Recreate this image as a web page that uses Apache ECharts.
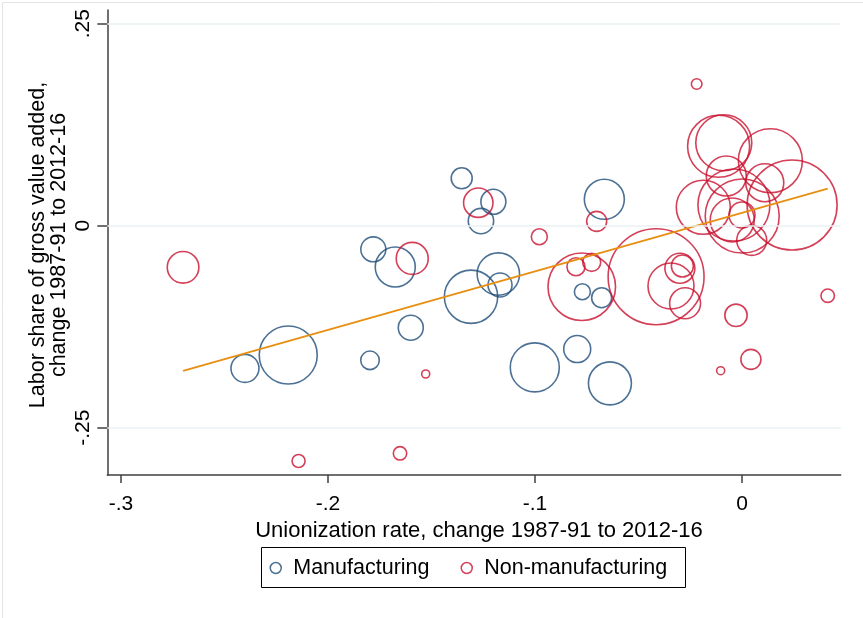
<!DOCTYPE html>
<html>
<head>
<meta charset="utf-8">
<script src="https://cdn.jsdelivr.net/npm/echarts@6/dist/echarts.min.js"></script>
<style>
html,body{margin:0;padding:0;background:#fff;}
#chart{width:863px;height:618px;}
</style>
</head>
<body>
<div id="chart"></div>
<script>
// Manufacturing industries: x = unionization change, y = labor share change, w = weight
const manufX = [-0.1354, -0.1201, -0.1261, -0.0665, -0.1781, -0.1675, -0.1309, -0.1177, -0.1169, -0.1600, -0.2192, -0.2401, -0.1797, -0.0771, -0.0678, -0.1001, -0.0796, -0.0638];
const manufY = [0.0587, 0.0297, 0.0058, 0.0327, -0.0292, -0.0511, -0.0879, -0.0598, -0.0734, -0.1262, -0.1600, -0.1765, -0.1666, -0.0817, -0.0891, -0.1753, -0.1526, -0.1951];
const manufW = [1.10, 1.56, 1.61, 4.0, 1.56, 4.0, 7.1, 4.5, 1.44, 1.56, 8.41, 1.96, 0.86, 0.64, 1.0, 6.0, 1.82, 4.62];

// Non-manufacturing industries
const nonX = [-0.1274, -0.0702, -0.0979, -0.0219, -0.2700, -0.1593, -0.1528, -0.2142, -0.1652, -0.0774, -0.0802, -0.0726, -0.0415, -0.0343, -0.0300, -0.0288, -0.0275, 0.0414, -0.0029, 0.0043, -0.0103,
  -0.0113, -0.0088, 0.0137, -0.0076, 0.0242, 0.0110, -0.0187, -0.0039, 0.0001, -0.0047, 0.0000, 0.0047];
const nonY = [0.0285, 0.0054, -0.0136, 0.1754, -0.0515, -0.0404, -0.1835, -0.2912, -0.2817, -0.0755, -0.0507, -0.0453, -0.0631, -0.0746, -0.0527, -0.0499, -0.0960, -0.0866, -0.1109, -0.1654, -0.1794,
  0.0983, 0.1027, 0.0804, 0.0615, 0.0256, 0.0532, 0.0228, 0.0256, 0.0120, 0.0071, 0.0132, -0.0181];
const nonW = [2.16, 1.0, 0.64, 0.28, 2.5, 2.56, 0.16, 0.42, 0.45, 11.4, 0.81, 0.81, 23.0, 5.29, 2.25, 1.21, 2.4, 0.45, 1.25, 1.0, 0.16,
  9.61, 7.84, 10.24, 4.0, 20.25, 3.61, 7.29, 12.96, 13.69, 4.84, 1.69, 2.25];

// Fitted line endpoints
const fitX = [-0.2700, 0.0414];
const fitY = [-0.1795, 0.0458];

// Ticks
const xTicks = [-0.3, -0.2, -0.1, 0];
const yTicks = [-0.25, 0, 0.25];

const BLUE = '#1f4e79';
const RED = '#c8102e';
const ORANGE = '#e88e10';
const FONT = 'Liberation Sans, Arial, sans-serif';

function fmt(v) {
  if (Math.abs(v) < 1e-9) return '0';
  return String(+v.toFixed(4)).replace('0.', '.');
}
function sizeFn(d) { return 20 * Math.sqrt(d[2]); }

const manufData = manufX.map((x, i) => [x, manufY[i], manufW[i]]);
const nonData = nonX.map((x, i) => [x, nonY[i], nonW[i]]);
const fitData = fitX.map((x, i) => [x, fitY[i]]);

const chart = echarts.init(document.getElementById('chart'), null, {renderer: 'canvas'});
chart.setOption({
  animation: false,
  backgroundColor: '#fff',
  textStyle: {fontFamily: FONT},
  grid: {left: 107.3, right: 22.3, top: 10, bottom: 143, containLabel: false},
  xAxis: {
    type: 'value', min: -0.3066, max: 0.04768,
    axisLine: {show: true, onZero: false, lineStyle: {color: '#404040', width: 1.5}},
    axisTick: {show: true, length: 8, customValues: xTicks, lineStyle: {color: '#404040', width: 1.5}},
    axisLabel: {customValues: xTicks, formatter: fmt, fontSize: 21, color: '#000', margin: 19, fontFamily: FONT},
    splitLine: {show: false},
    name: 'Unionization rate, change 1987-91 to 2012-16',
    nameLocation: 'middle', nameGap: 37,
    nameTextStyle: {fontSize: 22, color: '#000', fontFamily: FONT, padding: [0, 0, 0, 10]}
  },
  yAxis: {
    type: 'value', min: -0.3085, max: 0.267,
    axisLine: {show: true, onZero: false, lineStyle: {color: '#404040', width: 1.5}},
    axisTick: {show: true, length: 10, customValues: yTicks, lineStyle: {color: '#404040', width: 1.5}},
    axisLabel: {customValues: yTicks, formatter: fmt, fontSize: 21, color: '#000', rotate: 90, margin: 14, fontFamily: FONT},
    splitLine: {show: false}
  },
  legend: {
    left: 269.5, top: 557,
    orient: 'horizontal',
    padding: 0,
    itemGap: 31,
    itemWidth: 25, itemHeight: 11,
    textStyle: {fontSize: 21.5, color: '#000', fontFamily: FONT},
    data: [
      {name: 'Manufacturing', icon: 'circle', itemStyle: {color: 'rgba(0,0,0,0)', borderColor: BLUE, borderWidth: 1.5}},
      {name: 'Non-manufacturing', icon: 'circle', itemStyle: {color: 'rgba(0,0,0,0)', borderColor: RED, borderWidth: 1.5}}
    ]
  },
  graphic: [
    {type: 'rect', left: 0, top: 0, shape: {x: 0.5, y: 0.5, width: 862, height: 616}, style: {fill: 'none', stroke: '#e4e4e4', lineWidth: 1}, silent: true, z: -10},
    {type: 'rect', shape: {x: 261.5, y: 547.5, width: 424, height: 40}, style: {fill: 'none', stroke: '#000', lineWidth: 1}, silent: true},
    {type: 'text', x: 48.5, y: 245, rotation: Math.PI / 2,
     style: {text: 'Labor share of gross value added,\nchange 1987-91 to 2012-16', fontSize: 21.5, lineHeight: 21, fill: '#000', align: 'center', verticalAlign: 'middle', fontFamily: FONT}}
  ],
  series: [
    {
      type: 'line', name: 'grid', silent: true, data: [], z: 1,
      markLine: {silent: true, symbol: 'none', label: {show: false},
        lineStyle: {color: '#eaf1f3', width: 1.5, type: 'solid'},
        data: yTicks.map(v => ({yAxis: v}))}
    },
    {
      type: 'scatter', name: 'Manufacturing', data: manufData,
      symbol: 'circle', symbolSize: sizeFn,
      itemStyle: {color: 'rgba(0,0,0,0)', borderColor: BLUE, borderWidth: 1.6},
      emphasis: {disabled: true}, z: 3
    },
    {
      type: 'scatter', name: 'Non-manufacturing', data: nonData,
      symbol: 'circle', symbolSize: sizeFn,
      itemStyle: {color: 'rgba(0,0,0,0)', borderColor: RED, borderWidth: 1.6},
      emphasis: {disabled: true}, z: 3
    },
    {
      type: 'line', name: 'Fitted', data: fitData, showSymbol: false, symbol: 'none',
      lineStyle: {color: ORANGE, width: 1.8}, emphasis: {disabled: true}, z: 4
    }
  ]
});
</script>
</body>
</html>
